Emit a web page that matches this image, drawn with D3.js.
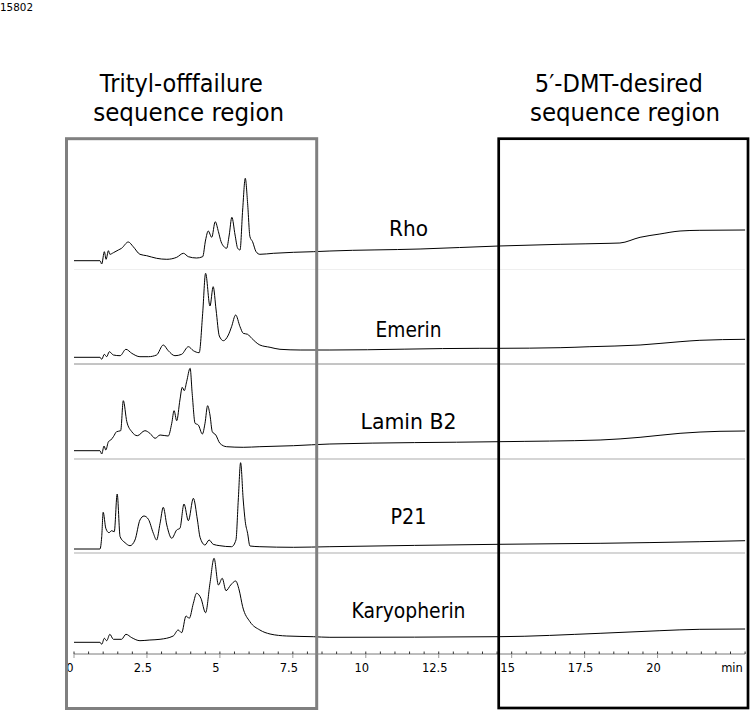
<!DOCTYPE html>
<html>
<head>
<meta charset="utf-8">
<script src="https://cdn.jsdelivr.net/npm/d3@7"></script>
<style>
  html, body { margin: 0; padding: 0; background: #fff; }
  svg { display: block; }
  text { font-family: "DejaVu Sans", Verdana, sans-serif; fill: #000; }
</style>
</head>
<body>
<div id="chart"></div>
<script>
// ---------- DATA (time in min, signal in mAU above each trace's baseline) ----------
const sampleNames = ["Rho", "Emerin", "Lamin B2", "P21", "Karyopherin"];

const rho = [[0,0],[0.89,0],[0.95,-3.3],[1.04,9],[1.10,1.4],[1.18,10],[1.23,6.4],[1.35,8],[1.52,10.7],[1.63,12.4],
  [1.86,18.7],[2.03,14],[2.26,6.4],[2.49,5],[2.83,2.4],[3.18,1.4],[3.52,3.4],[3.75,7.4],[3.92,4],[4.20,2.7],
  [4.41,4],[4.51,20.7],[4.60,29.7],[4.72,23.4],[4.84,39],[4.95,29],[5.04,19],[5.14,14],[5.23,12.4],[5.32,25.7],
  [5.41,43.4],[5.52,25.7],[5.61,12.4],[5.69,10.7],[5.78,50.7],[5.87,82.4],[5.95,57.4],[6.03,24],[6.12,19],[6.24,9],
  [6.37,6.4],[6.83,7.4],[7.52,8.4],[8.20,9],[8.77,9.7],[11.86,11.7],[14.56,14.7],[16.66,16.4],[18.37,17.4],[18.71,17.7],
  [19.40,23.4],[20.08,26.7],[20.77,29.7],[21.45,30.4],[23.0,30.7]];

const emerin = [[0,0],[0.89,0],[0.95,-2],[1.04,3],[1.12,0.6],[1.21,5.6],[1.35,2.3],[1.58,1.6],[1.78,8],[1.98,4],
  [2.26,0.6],[2.55,0.6],[2.83,2.3],[3.06,12.3],[3.23,6.6],[3.46,1.6],[3.69,3],[3.92,10.6],[4.09,6.6],[4.29,4.6],
  [4.41,44],[4.51,84],[4.66,51.3],[4.77,70.6],[4.87,47.3],[4.98,21.3],[5.12,16.6],[5.29,22.3],[5.40,30.6],[5.54,42.3],
  [5.69,30.6],[5.80,24],[5.95,23],[6.09,19],[6.37,12.3],[6.72,10],[7.06,8],[7.75,7.3],[8.77,7.3],[13.91,9],
  [14.56,9],[16.66,9.6],[17.68,10.6],[19.40,12.3],[20.77,15.6],[21.45,17],[23.0,18]];

const laminB2 = [[0,0],[0.89,0],[0.95,-3.3],[1.03,4.7],[1.09,0.7],[1.18,9],[1.26,10.7],[1.35,14],[1.46,19],[1.60,20],
  [1.69,50],[1.81,29],[1.98,19],[2.17,15],[2.43,20],[2.60,17.4],[2.78,12.4],[2.95,15.7],[3.23,14.7],[3.35,27.4],
  [3.43,40],[3.52,30],[3.63,50.7],[3.71,63.4],[3.78,60],[3.86,69],[3.98,82.4],[4.05,57.4],[4.15,27.4],[4.26,25.7],
  [4.40,16.7],[4.49,27.4],[4.58,45],[4.66,35.7],[4.74,19],[4.86,15.7],[5.00,7.4],[5.23,4],[5.80,3.4],[6.37,4],
  [7.52,5],[8.77,6.7],[14.56,9],[18.03,10.7],[19.40,13.4],[20.77,17.4],[22.14,19.4],[23.0,19.7]];

const p21 = [[0,0],[0.89,0],[0.95,12.3],[1.00,36.7],[1.09,20.7],[1.20,16.3],[1.29,18.3],[1.38,17.3],[1.48,55],[1.58,12.3],
  [1.75,6.3],[1.92,3.3],[2.09,9],[2.26,29],[2.40,33],[2.55,29.7],[2.72,15.7],[2.83,9],[2.95,25.7],[3.06,41.7],
  [3.18,24],[3.35,10.7],[3.52,19],[3.63,20.7],[3.77,45],[3.92,28.3],[4.09,50.7],[4.23,29],[4.32,11.7],[4.49,4],
  [4.63,9],[4.77,4.7],[5.00,3.3],[5.40,2.3],[5.55,9],[5.63,49],[5.71,86.3],[5.80,49],[5.87,27.3],[5.95,15.7],
  [6.03,3],[6.37,2.3],[7.52,1.7],[8.77,2.3],[14.56,4.7],[18.03,5.7],[21.45,7.3],[23.0,8.3]];

const karyopherin = [[0,0],[0.89,0],[0.95,-2],[1.04,4],[1.12,1.6],[1.23,8],[1.35,3],[1.63,3],[1.78,8],[1.98,4.6],
  [2.26,1.6],[2.60,2.3],[2.95,3],[3.40,6.3],[3.57,12.3],[3.69,9.6],[3.84,26.3],[3.95,24],[4.09,39],[4.20,49],
  [4.35,44],[4.51,29.6],[4.66,59],[4.80,84],[4.95,57.3],[5.08,64],[5.21,51.6],[5.37,57.3],[5.54,61.3],[5.66,52.3],
  [5.78,35.6],[6.03,20.6],[6.37,12.3],[6.72,8.3],[7.29,6.3],[8.20,5.6],[8.77,5],[14.56,5.6],[18.03,9],[20.08,11.6],
  [21.45,13],[23.0,13.3]];

const traces = [rho, emerin, laminB2, p21, karyopherin];

const axisTicks = [0, 2.5, 5, 7.5, 10, 12.5, 15, 17.5, 20];
const axisTickLabels = ["0", "2.5", "5", "7.5", "10", "12.5", "15", "17.5", "20"];
const axisUnit = "min";

const regionTitles = [["Trityl-offfailure", "sequence region"], ["5\u2032-DMT-desired", "sequence region"]];
const figureId = "15802";

// ---------- LAYOUT ----------
const W = 750, H = 711;
const svg = d3.select("#chart").append("svg").attr("width", W).attr("height", H);

const x = d3.scaleLinear().domain([0, 23]).range([74, 745.1]);
const axisY = 654;

const panelBase = [260.7, 357.3, 450.7, 549, 642.3];
const ys = panelBase.map(b => d3.scaleLinear().domain([0, 100]).range([b, b - 100]));

// separator lines between traces
const seps = [
  { y: 269.5, c: "#efefef", w: 1 },
  { y: 364, c: "#8a8a8a", w: 1 },
  { y: 459, c: "#ababab", w: 1 },
  { y: 553, c: "#d6d6d6", w: 2 }
];
svg.selectAll("line.sep").data(seps).join("line")
  .attr("class", "sep")
  .attr("x1", x(0)).attr("x2", x(23))
  .attr("y1", d => d.y).attr("y2", d => d.y)
  .attr("stroke", d => d.c).attr("stroke-width", d => d.w);

// traces
const line = (i) => d3.line().x(d => x(d[0])).y(d => ys[i](d[1])).curve(d3.curveMonotoneX);
svg.selectAll("path.trace").data(traces).join("path")
  .attr("class", "trace")
  .attr("d", (d, i) => line(i)(d))
  .attr("fill", "none").attr("stroke", "#000").attr("stroke-width", 1);

// sample labels
const labelBase = [236, 337, 429, 524, 618];
const labelWidth = [39, 66, 96, 36, 114];
svg.selectAll("text.sample").data(sampleNames).join("text")
  .attr("class", "sample")
  .attr("x", (d, i) => 408.5 - labelWidth[i] / 2)
  .attr("y", (d, i) => labelBase[i])
  .attr("font-size", 21.5)
  .attr("textLength", (d, i) => labelWidth[i])
  .attr("lengthAdjust", "spacingAndGlyphs")
  .text(d => d);

// axis
const ax = svg.append("g");
ax.append("line").attr("x1", x(0)).attr("x2", x(23)).attr("y1", axisY).attr("y2", axisY)
  .attr("stroke", "#7a7a7a").attr("stroke-width", 1);
ax.selectAll("line.minor").data(d3.range(0, 23.01, 0.5)).join("line")
  .attr("class", "minor")
  .attr("x1", d => x(d)).attr("x2", d => x(d))
  .attr("y1", axisY - 2.5).attr("y2", axisY)
  .attr("stroke", "#333").attr("stroke-width", 1);
ax.selectAll("line.major").data(axisTicks).join("line")
  .attr("class", "major")
  .attr("x1", d => x(d)).attr("x2", d => x(d))
  .attr("y1", axisY).attr("y2", axisY + 4)
  .attr("stroke", "#9a9a9a").attr("stroke-width", 1);
ax.selectAll("text.tick").data(axisTicks).join("text")
  .attr("class", "tick")
  .attr("x", d => x(d) - 4).attr("y", axisY + 18)
  .attr("text-anchor", "middle").attr("font-size", 11.5)
  .text((d, i) => axisTickLabels[i]);
ax.append("text").attr("x", 732).attr("y", axisY + 18)
  .attr("text-anchor", "middle").attr("font-size", 11.5).text(axisUnit);

// region boxes
svg.append("rect").attr("x", 66.5).attr("y", 138.7).attr("width", 316.7 - 66.5).attr("height", 708.5 - 138.7)
  .attr("fill", "none").attr("stroke", "#808080").attr("stroke-width", 3);
svg.append("rect").attr("x", 498.7).attr("y", 138.7).attr("width", 748 - 498.7).attr("height", 708 - 138.7)
  .attr("fill", "none").attr("stroke", "#000").attr("stroke-width", 2.7);

// region titles
const titleSpecs = [
  { cx: [181.3, 188.7], w: [163, 191] },
  { cx: [618.8, 625], w: [168, 190] }
];
regionTitles.forEach((lines, k) => {
  lines.forEach((t, j) => {
    svg.append("text")
      .attr("x", titleSpecs[k].cx[j] - titleSpecs[k].w[j] / 2)
      .attr("y", j === 0 ? 91.5 : 120.7)
      .attr("font-size", 25.5)
      .attr("textLength", titleSpecs[k].w[j])
      .attr("lengthAdjust", "spacingAndGlyphs")
      .text(t);
  });
});

// figure id
svg.append("text").attr("x", 0).attr("y", 10.5).attr("font-size", 11)
  .attr("textLength", 33).attr("lengthAdjust", "spacingAndGlyphs").text(figureId);
</script>
</body>
</html>
